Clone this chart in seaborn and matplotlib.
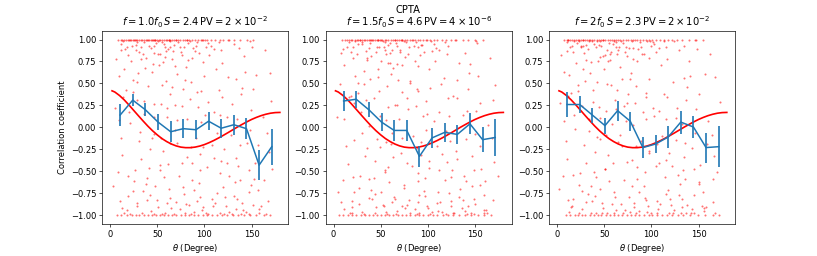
import numpy as np
import pandas as pd
import matplotlib
matplotlib.use("Agg")
import matplotlib.pyplot as plt
import seaborn as sns

# bin centres of the averaged correlation (degrees)
bin_theta = [10.6, 24.0, 37.4, 50.8, 64.2, 77.6, 91.0, 104.4, 117.8, 131.2, 144.6, 158.0, 171.4]

p1_mean = [0.14, 0.31, 0.20, 0.06, -0.05, -0.015, -0.027, 0.07, -0.01, 0.03, -0.015, -0.43, -0.22]
p1_err = [0.125, 0.072, 0.072, 0.095, 0.118, 0.108, 0.11, 0.104, 0.108, 0.112, 0.123, 0.17, 0.205]
p2_mean = [0.30, 0.32, 0.20, 0.06, -0.035, -0.035, -0.33, -0.12, -0.057, -0.08, 0.04, -0.14, -0.115]
p2_err = [0.11, 0.095, 0.085, 0.10, 0.115, 0.115, 0.12, 0.11, 0.11, 0.11, 0.12, 0.14, 0.21]
p3_mean = [0.26, 0.26, 0.14, 0.02, 0.19, 0.07, -0.23, -0.19, -0.11, 0.06, 0.004, -0.23, -0.22]
p3_err = [0.14, 0.095, 0.085, 0.09, 0.115, 0.11, 0.12, 0.10, 0.12, 0.13, 0.13, 0.17, 0.23]

# expected (Hellings-Downs like) curve
hd_theta = [2, 5, 10, 15, 20, 25, 30, 35, 40, 45, 50, 55, 60, 65, 70, 75, 80, 85, 90,
            95, 100, 105, 110, 115, 120, 125, 130, 135, 140, 145, 150, 155, 160, 165, 170, 175, 180]
hd_corr = [0.416, 0.402, 0.362, 0.312, 0.254, 0.193, 0.132, 0.072, 0.014, -0.039, -0.086,
           -0.128, -0.162, -0.190, -0.211, -0.225, -0.231, -0.231, -0.225, -0.213, -0.196,
           -0.174, -0.149, -0.121, -0.091, -0.060, -0.028, 0.004, 0.034, 0.063, 0.090,
           0.113, 0.133, 0.149, 0.161, 0.168, 0.170]

# pulsar-pair points sitting on +1 / -1 (theta only)
p1_top = [8, 11, 13, 15, 17, 19, 21, 22, 24, 26, 27, 29, 31, 33, 34, 36, 38, 40, 41, 43, 45, 46, 48, 50,
          52, 53, 55, 57, 59, 60, 62, 64, 66, 68, 70, 72, 74, 77, 79, 82, 84, 87, 90, 93, 96, 99, 103,
          107, 111, 116, 120, 125, 131, 138, 145, 152]
p2_top = [9, 12, 14, 16, 18, 20, 23, 25, 26, 28, 30, 32, 33, 35, 37, 39, 40, 42, 44, 46, 47, 49, 51, 54,
          56, 58, 61, 63, 65, 67, 69, 71, 73, 76, 78, 81, 83, 86, 89, 92, 95, 98, 102, 106, 110, 115,
          119, 124, 130, 137, 143, 150, 158]
p3_top = [7, 10, 12, 14, 16, 18, 20, 22, 23, 25, 27, 28, 30, 32, 34, 35, 37, 39, 42, 44, 47, 49, 51, 54,
          56, 58, 60, 63, 65, 67, 70, 73, 75, 78, 81, 85, 88, 91, 94, 97, 101, 105, 109, 113, 118, 122,
          127, 133, 140, 147, 155]
p1_bot = [7, 12, 18, 23, 27, 31, 36, 40, 44, 49, 53, 57, 61, 66, 70, 75, 79, 84, 89, 93, 98, 103, 108,
          113, 119, 124, 130, 136, 142, 148, 155, 163, 170]
p2_bot = [6, 10, 15, 20, 24, 29, 33, 37, 42, 46, 50, 55, 59, 63, 68, 72, 77, 81, 86, 91, 95, 100, 105,
          110, 116, 121, 127, 133, 139, 146, 153, 160, 167]
p3_bot = [9, 14, 19, 22, 26, 30, 35, 39, 43, 47, 52, 56, 60, 65, 69, 74, 78, 83, 87, 92, 97, 101, 106,
          111, 117, 122, 128, 134, 141, 149, 157, 165, 172]

# remaining points (theta, corr*100)
p1_mid = [(12,95),(27,88),(41,93),(55,97),(19,82),(33,91),(68,94),(47,85),(22,76),(61,89),(83,96),(38,79),
          (15,66),(74,92),(52,71),(29,97),(90,87),(44,63),(107,93),(66,78),(9,58),(35,84),(99,74),(58,91),
          (24,54),(80,69),(118,88),(49,96),(131,95),(71,61),(17,43),(86,52),(40,47),(63,38),(96,41),(112,66),
          (28,31),(54,27),(77,44),(125,57),(142,81),(5,22),(36,15),(93,23),(60,12),(139,38),(104,29),(21,5),
          (47,-8),(82,9),(152,44),(117,14),(69,-3),(31,-15),(128,-9),(99,-22),(13,-31),(56,-27),(162,12),
          (87,-40),(41,-46),(145,-18),(110,-35),(73,-55),(25,-61),(136,-44),(62,-70),(94,-63),(168,-28),
          (19,-78),(50,-83),(120,-68),(84,-88),(35,-72),(153,-59),(108,-81),(65,-92),(43,-95),(140,-86),
          (78,-76),(28,-90),(97,-94),(57,-57),(126,-96),(15,-97),(89,-71),(160,-89),(116,-52),(70,-85),
          (38,-64),(147,-74),(102,-97),(53,-43),(8,-51),(132,-62),(81,-34),(46,27),(115,42),(20,18),(135,9),
          (91,-12),(59,53),(100,59),(33,-36),(76,24),(148,-3),(121,-25),(66,46),(11,-12),(172,-47),(157,-71),
          (170,62),(164,88),(143,63),(129,27),(85,32),(45,72),(30,62),(16,89),(58,80),(75,86),(92,97),
          (105,82),(119,73),(137,90),(150,92),(23,93),(37,68),(51,84),(64,98),(87,79),(102,91),(6,78),
          (113,-6),(124,-40),(138,-20),(154,-40),(166,-6),(42,-25),(26,-48),(3,-67),(71,-18),(95,-48),
          (61,-42),(109,-90),(122,-79),(79,-98),(48,-67),(18,-94),(144,-96),(158,-97),(134,-93),(96,6),(54,-12),
          (14,98),(18,92),(25,99),(31,86),(36,97),(43,90),(48,99),(53,83),(57,95),(62,99),(67,87),(72,97),
          (78,91),(85,98),(91,93),(97,99),(104,96),(110,89),(20,99),(27,94),(39,99),(46,93),(51,98),(59,87),
          (64,92),(70,99),(76,82),(81,99),(88,90),(94,85),(101,99),(12,88),(33,78),(44,99),(56,74),(69,70),
          (83,77),(115,97),(126,99),(148,98),
          (13,-92),(21,-99),(29,-86),(34,-98),(39,-83),(46,-99),(51,-91),(58,-97),(63,-80),(68,-99),(74,-93),
          (80,-87),(86,-99),(92,-84),(98,-91),(104,-99),(111,-86),(117,-97),(123,-89),(129,-99),(135,-82),
          (141,-94),(147,-99),(152,-88),(158,-93),(165,-99),(24,-73),(42,-77),(60,-86),(77,-68),(95,-79),
          (113,-75),(131,-78),(149,-66),(167,-84),(10,-84),(55,-99),(89,-96),(121,-99),(139,-99),
          (14,35),(32,-5),(47,12),(63,-18),(79,54),(95,-30),(110,18),(126,-55),(140,45),(157,-20),(24,40),
          (39,-58),(55,48),(71,8),(87,-60),(103,-45),(119,34),(133,-35),(149,20),(163,-60),(9,8),(28,52),
          (44,-12),(60,22),(76,-40),(92,40),(108,-20),(124,12),(138,-60),(155,60),(19,-55),(36,30),(53,-48),
          (69,25),(86,-22),(101,14),(118,-38),(133,55),(147,-48),(171,30)]
p2_mid = [(14,92),(30,97),(45,86),(58,94),(21,79),(37,90),(70,88),(50,75),(26,95),(63,68),(85,93),(40,81),
          (11,71),(77,97),(55,88),(32,64),(92,82),(47,57),(109,90),(67,72),(7,49),(35,77),(101,66),(60,85),
          (23,59),(81,51),(120,84),(52,98),(133,73),(73,40),(18,36),(88,44),(43,33),(65,25),(98,30),(114,49),
          (29,17),(56,8),(79,21),(127,36),(144,62),(4,12),(38,2),(95,13),(62,-6),(141,19),(106,7),(22,-14),
          (49,-22),(84,-10),(155,28),(119,-4),(71,-29),(33,-33),(130,-27),(101,-38),(15,-42),(58,-45),(164,3),
          (89,-52),(43,-58),(147,-33),(112,-49),(75,-66),(27,-69),(138,-55),(64,-79),(96,-72),(170,-39),
          (20,-84),(52,-88),(122,-75),(86,-93),(37,-80),(155,-66),(110,-86),(67,-95),(45,-91),(142,-90),
          (80,-83),(30,-96),(99,-89),(59,-62),(128,-97),(17,-98),(91,-77),(162,-94),(118,-60),(72,-90),
          (40,-71),(149,-81),(104,-96),(55,-51),(10,-60),(134,-70),(83,-44),(48,41),(117,56),(22,28),(137,14),
          (93,-17),(61,61),(102,45),(35,-24),(78,33),(150,-8),(123,-15),(68,54),(13,-21),(174,-55),(159,-77),
          (171,48),(166,79),(145,72),(131,33),(87,24),(47,66),(32,49),(18,86),(60,73),(76,80),(94,94),
          (107,76),(121,93),(139,85),(152,96),(25,84),(39,55),(53,92),(66,96),(89,70),(104,87),(8,85),
          (115,-30),(126,-48),(140,-13),(156,-47),(168,-12),(44,-38),(28,-55),(5,-74),(73,-12),(97,-58),
          (63,-34),(111,-95),(124,-84),(81,-97),(50,-74),(20,-91),(146,-97),(160,-98),(136,-92),(98,-3),(56,-17),
          (16,97),(21,91),(28,99),(34,87),(39,96),(46,92),(50,99),(56,84),(60,96),(65,99),(70,86),(75,98),
          (80,92),(87,97),(93,94),(99,99),(106,95),(112,88),(23,98),(30,95),(41,99),(48,91),(54,97),(62,88),
          (67,93),(73,99),(79,83),(84,99),(90,91),(96,86),(103,98),(10,89),(35,79),(47,99),(58,73),(72,71),
          (86,76),(118,97),(129,99),(151,98),
          (11,-93),(19,-98),(27,-87),(32,-99),(41,-82),(44,-98),(53,-90),(56,-96),(65,-81),(66,-99),(76,-92),
          (78,-88),(88,-99),(90,-85),(100,-92),(102,-99),(113,-85),(115,-96),(125,-90),(127,-98),(137,-83),
          (139,-95),(149,-99),(150,-87),(160,-94),(163,-98),(22,-74),(44,-76),(62,-85),(75,-69),(97,-78),
          (111,-74),(133,-79),(147,-67),(169,-83),(8,-85),(57,-99),(91,-97),(119,-99),(141,-99),
          (16,34),(30,-6),(49,13),(61,-19),(81,53),(93,-31),(112,17),(124,-56),(142,44),(155,-21),(26,39),
          (37,-59),(57,47),(69,9),(89,-61),(101,-46),(121,33),(131,-36),(151,19),(161,-61),(11,9),(26,51),
          (46,-13),(58,23),(78,-41),(90,41),(110,-21),(122,13),(140,-61),(153,59),(21,-56),(34,31),(55,-49),
          (67,26),(88,-23),(99,15),(120,-39),(131,54),(149,-49),(169,31)]
p3_mid = [(10,97),(25,91),(39,95),(53,88),(17,86),(31,94),(66,91),(45,80),(20,73),(59,95),(81,90),(36,74),
          (13,60),(72,86),(50,66),(27,93),(88,97),(42,52),(105,86),(64,83),(7,63),(33,89),(97,79),(56,77),
          (22,48),(78,62),(116,92),(47,93),(129,88),(69,55),(15,39),(84,47),(38,42),(61,31),(94,35),(110,71),
          (26,24),(52,19),(75,38),(123,52),(140,76),(3,28),(34,9),(91,18),(58,4),(137,31),(102,22),(19,-2),
          (45,-13),(80,3),(150,38),(115,9),(67,-9),(29,-20),(126,-14),(97,-27),(11,-36),(54,-32),(160,7),
          (85,-45),(39,-51),(143,-23),(108,-41),(71,-60),(23,-66),(134,-49),(60,-74),(92,-67),(166,-33),
          (17,-82),(48,-86),(118,-71),(82,-91),(33,-76),(151,-62),(106,-84),(63,-94),(41,-97),(138,-88),
          (76,-79),(26,-93),(95,-96),(55,-61),(124,-94),(13,-96),(87,-74),(158,-91),(114,-56),(68,-87),
          (36,-67),(145,-77),(100,-98),(51,-47),(6,-55),(130,-65),(79,-37),(44,23),(113,38),(18,14),(133,4),
          (89,-15),(57,48),(98,55),(31,-40),(74,28),(146,-6),(119,-29),(64,42),(9,-16),(170,-51),(155,-74),
          (168,57),(162,84),(141,58),(127,22),(83,28),(43,76),(28,66),(14,91),(56,84),(73,92),(90,83),
          (103,95),(117,78),(135,93),(148,89),(21,96),(35,62),(49,81),(62,97),(85,75),(100,93),(4,82),
          (111,-10),(122,-44),(136,-18),(152,-43),(164,-9),(40,-28),(24,-52),(2,-70),(69,-21),(93,-51),
          (59,-40),(107,-93),(120,-81),(77,-96),(46,-70),(16,-90),(142,-98),(156,-95),(132,-91),(94,9),(52,-9),
          (12,99),(16,93),(23,98),(29,85),(34,98),(41,91),(46,98),(51,82),(55,96),(60,98),(65,88),(70,96),
          (76,90),(83,99),(89,92),(95,98),(102,97),(108,90),(18,98),(25,93),(37,98),(44,94),(49,99),(57,86),
          (62,91),(68,98),(74,81),(79,98),(86,89),(92,84),(99,98),(10,87),(31,77),(42,98),(54,75),(67,69),
          (81,78),(113,98),(124,98),(146,99),
          (15,-91),(23,-98),(31,-85),(36,-97),(37,-84),(48,-98),(49,-92),(60,-98),(61,-79),(70,-98),(72,-94),
          (82,-86),(84,-98),(94,-83),(96,-90),(106,-98),(109,-87),(119,-98),(121,-88),(131,-98),(133,-81),
          (143,-93),(145,-98),(154,-89),(156,-92),(167,-98),(26,-72),(40,-78),(58,-87),(79,-67),(93,-80),
          (115,-76),(129,-77),(151,-65),(165,-85),(12,-83),(53,-98),(87,-95),(123,-98),(137,-98),
          (12,36),(34,-4),(45,11),(65,-17),(77,55),(97,-29),(108,19),(128,-54),(138,46),(159,-19),(22,41),
          (41,-57),(53,49),(73,7),(85,-59),(105,-44),(117,35),(135,-34),(147,21),(165,-59),(7,7),(30,53),
          (42,-11),(62,21),(74,-39),(94,39),(106,-19),(126,11),(136,-59),(157,61),(17,-54),(38,29),(51,-47),
          (71,24),(84,-21),(103,13),(116,-37),(135,56),(145,-47),(173,29)]

titles = [r'$f=1.0f_0\,S=2.4\,\mathrm{PV}=2\times10^{-2}$',
          r'$f=1.5f_0\,S=4.6\,\mathrm{PV}=4\times10^{-6}$',
          r'$f=2f_0\,S=2.3\,\mathrm{PV}=2\times10^{-2}$']

panels = [(p1_top, p1_bot, p1_mid, p1_mean, p1_err),
          (p2_top, p2_bot, p2_mid, p2_mean, p2_err),
          (p3_top, p3_bot, p3_mid, p3_mean, p3_err)]

fig, axes = plt.subplots(1, 3, figsize=(817 / 60, 256 / 60), dpi=60)
fig.subplots_adjust(left=0.125, right=0.9, top=0.88, bottom=0.125, wspace=0.2)

for i, (top, bot, mid, mean, err) in enumerate(panels):
    ax = axes[i]
    pts = pd.DataFrame({
        'theta': list(top) + list(bot) + [p[0] for p in mid],
        'corr': [1.0] * len(top) + [-1.0] * len(bot) + [p[1] / 100 for p in mid],
    })
    sns.scatterplot(data=pts, x='theta', y='corr', ax=ax, color='red', s=6,
                    linewidth=0, alpha=0.55, zorder=1)
    sns.lineplot(x=hd_theta, y=hd_corr, ax=ax, color='red', lw=2, zorder=2)
    ax.errorbar(bin_theta, mean, yerr=err, color='#1f77b4', lw=1.8, elinewidth=2, zorder=3)
    ax.set_xlim(-8.5, 189)
    ax.set_ylim(-1.1, 1.1)
    ax.set_xticks([0, 50, 100, 150])
    ax.set_xlabel(r'$\theta$ (Degree)')
    ax.set_ylabel('Correlation coefficient' if i == 0 else '')
    ax.set_title(titles[i])

fig.suptitle('CPTA')
plt.savefig('out.png', dpi=60)
